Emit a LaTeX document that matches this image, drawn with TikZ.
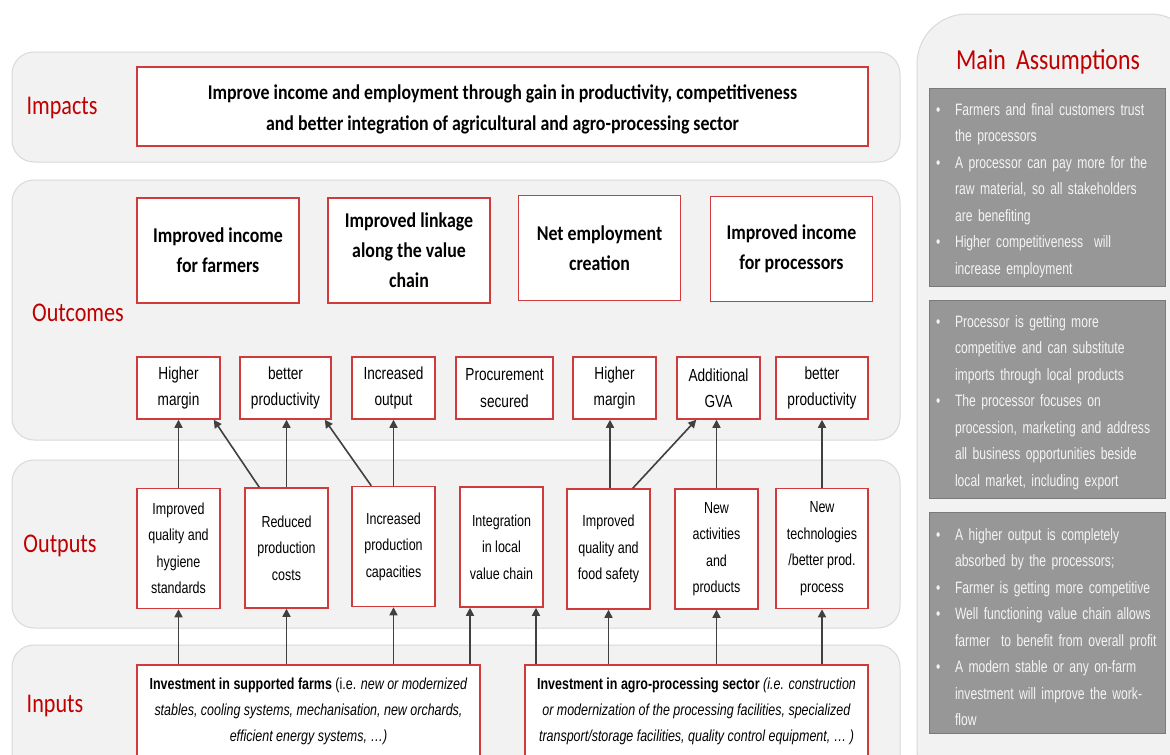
\documentclass[tikz,border=0pt]{standalone}
\usepackage{fontspec}
\setmainfont{Carlito}
\newfontfamily\lblfont{Carlito}[FakeStretch=0.82]
\newfontfamily\bfont{Carlito}[FakeStretch=0.85,UprightFont=* Bold]
\newfontfamily\narrowf{Liberation Sans}[FakeStretch=0.78]
\newfontfamily\asfont{Liberation Sans}[FakeStretch=0.735]
\usetikzlibrary{arrows.meta}
\hyphenpenalty=10000
\definecolor{bandfill}{HTML}{F2F2F2}
\definecolor{banddraw}{HTML}{D9D9D9}
\definecolor{lblred}{HTML}{C00000}
\definecolor{boxred}{HTML}{D03A3A}
\definecolor{arrowc}{HTML}{404040}
\definecolor{assumfill}{HTML}{979797}
\definecolor{assumdraw}{HTML}{7A7A7A}
\definecolor{assumtext}{HTML}{F4F4F4}
\tikzset{
  band/.style={fill=bandfill, draw=banddraw, line width=1pt, rounded corners=22pt},
  lbl/.style={text=lblred, font=\lblfont\fontsize{27}{29}\selectfont},
  redbox/.style={draw=boxred, line width=1.5pt, fill=white, inner sep=2pt, align=center},
  bigbox/.style={redbox, minimum width=162pt, minimum height=105pt, font=\bfont\fontsize{21}{30}\selectfont},
  smallbox/.style={redbox, minimum height=62pt, font=\narrowf\fontsize{17.5}{26.5}\selectfont},
  outbox/.style={redbox, minimum height=120pt, minimum width=83pt, font=\narrowf\fontsize{16}{26.5}\selectfont},
  inbox/.style={redbox, minimum width=343pt, minimum height=93pt, font=\narrowf\fontsize{16}{26}\selectfont},
  arr/.style={draw=arrowc, line width=1.6pt, -{Triangle[length=8pt,width=8pt]}},
  assum/.style={fill=assumfill, draw=assumdraw, line width=1pt, minimum width=236pt},
  assumtxt/.style={text width=230pt, inner xsep=3pt, align=left, text=assumtext, font=\asfont\fontsize{16.5}{26.5}\selectfont},
}
\newcommand{\bul}{\makebox[23pt][l]{\hspace*{4pt}\textbullet}}
\newcommand{\ind}{\hspace*{23pt}}
\begin{document}
\begin{tikzpicture}[x=1pt,y=-1pt]
\useasboundingbox (0,0) rectangle (1170,755);
\clip (0,0) rectangle (1170,755);
\fill[white] (0,0) rectangle (1170,755);
% bands
\draw[band] (12,52) rectangle (900,162);
\draw[band] (12,180) rectangle (900,440);
\draw[band] (12,460) rectangle (900,628);
\draw[band] (12,645) rectangle (900,800);
\draw[band, rounded corners=50pt] (917,14) rectangle (1200,800);
% labels
\node[lbl] (limp) at (62,108) {Impacts};
\node[lbl] (lout) at (78,313) {Outcomes};
\node[lbl] (lop) at (60,546) {Outputs};
\node[lbl] (lin) at (55,706) {Inputs};
\node[lbl, font=\lblfont\fontsize{29}{31}\selectfont] (lma) at (1048,62) {Main\, Assumptions};
% impact
\node[redbox, minimum width=731pt, minimum height=79pt] (imp) at (502.5,106.5) {};
\node[align=center, font=\bfont\fontsize{21}{31}\selectfont] (impt) at ([yshift=-2.5pt]imp.center)
  {Improve income and employment through gain in productivity, competitiveness\\and better integration of agricultural and agro-processing sector};
% outcomes
\node[bigbox] (oc1) at (218,250.5) {Improved income\\for farmers};
\node[bigbox] (oc2) at (409,250.5) {Improved linkage\\along the value\\chain};
\node[bigbox] (oc3) at (599.5,248) {Net employment\\creation};
\node[bigbox] (oc4) at (791.5,249) {Improved income\\for processors};
\node[smallbox, minimum width=83pt] (hm1) at (178.5,388) {Higher\\margin};
\node[smallbox, minimum width=91pt] (bp1) at (285.5,388) {better\\productivity};
\node[smallbox, minimum width=83pt] (io) at (393.5,388) {Increased\\output};
\node[smallbox, minimum width=97pt] (ps) at (504.5,388) {Procurement\\secured};
\node[smallbox, minimum width=83pt] (hm2) at (614.5,388) {Higher\\margin};
\node[smallbox, minimum width=83pt] (gva) at (718.5,388) {Additional\\GVA};
\node[smallbox, minimum width=92pt] (bp2) at (822,388) {better\\productivity};
% outputs
\node[outbox] (out1) at (178.5,548.5) {Improved\\quality and\\hygiene\\standards};
\node[outbox] (out2) at (286.5,548) {Reduced\\production\\costs};
\node[outbox] (out3) at (393.5,546.5) {Increased\\production\\capacities};
\node[outbox] (out4) at (501.5,547) {Integration\\in local\\value chain};
\node[outbox] (out5) at (608.5,549) {Improved\\quality and\\food safety};
\node[outbox] (out6) at (716.5,549) {New\\activities\\and\\products};
\node[outbox, minimum width=92pt] (out7) at (822,548.5) {New\\technologies\\/better prod.\\process};
% inputs
\node[inbox] (in1) at (308.5,711.5) {\textbf{Investment in supported farms} (i.e. \textit{new or modernized}\\\textit{stables, cooling systems, mechanisation, new orchards,}\\\textit{efficient energy systems, \dots)}};
\node[inbox] (in2) at (696.5,711.5) {\textbf{Investment in agro-processing sector} \textit{(i.e. construction}\\\textit{or modernization of the processing facilities, specialized}\\\textit{transport/storage facilities, quality control equipment, \dots\ )}};
% helper coordinates
\coordinate (c470) at (470,0);
\coordinate (c536) at (536,0);
% arrows inputs -> outputs
\draw[arr] (in1.north -| out1.south) -- (out1.south);
\draw[arr] (in1.north -| out2.south) -- (out2.south);
\draw[arr] (in1.north -| out3.south) -- (out3.south);
\draw[arr] (in1.north -| c470) -- (out4.south -| c470);
\draw[arr] (in2.north -| c536) -- (out4.south -| c536);
\draw[arr] (in2.north -| out5.south) -- (out5.south);
\draw[arr] (in2.north -| out6.south) -- (out6.south);
\draw[arr] (in2.north -| out7.south) -- (out7.south);
% arrows outputs -> outcomes
\draw[arr] (out1.north) -- (out1.north |- hm1.south);
\draw[arr] ([xshift=15pt]out2.north west) -- ([xshift=-7pt]hm1.south east);
\draw[arr] (out2.north) -- (out2.north |- bp1.south);
\draw[arr] ([xshift=20pt]out3.north west) -- ([xshift=-7pt]bp1.south east);
\draw[arr] (out3.north) -- (out3.north |- io.south);
\draw[arr] ([xshift=1.5pt]out5.north) -- ([xshift=1.5pt]out5.north |- hm2.south);
\draw[arr] ([xshift=-18pt]out5.north east) -- ([xshift=20pt]gva.south west);
\draw[arr] (out6.north) -- (out6.north |- gva.south);
\draw[arr] (out7.north) -- (out7.north |- bp2.south);
% assumptions
\node[assum, minimum height=198pt] (a1) at (1047,187) {};
\node[assumtxt] (a1t) at ([yshift=-3.5pt]a1.center) {\bul Farmers and final customers trust\\\ind the processors\\\bul A processor can pay more for the\\\ind raw material, so all stakeholders\\\ind are benefiting\\\bul Higher competitiveness\ \ will\\\ind increase employment};
\node[assum, minimum height=198pt] (a2) at (1047,399) {};
\node[assumtxt] (a2t) at ([yshift=-3.5pt]a2.center) {\bul Processor is getting more\\\ind competitive and can substitute\\\ind imports through local products\\\bul The processor focuses on\\\ind procession, marketing and address\\\ind all business opportunities beside\\\ind local market, including export};
\node[assum, minimum height=221pt] (a3) at (1047,622.5) {};
\node[assumtxt] (a3t) at ([yshift=-4.5pt]a3.center) {\bul A higher output is completely\\\ind absorbed by the processors;\\\bul Farmer is getting more competitive\\\bul Well functioning value chain allows\\\ind farmer\ \ to benefit from overall profit\\\bul A modern stable or any on-farm\\\ind investment will improve the work-\\\ind flow};
\end{tikzpicture}
\end{document}
